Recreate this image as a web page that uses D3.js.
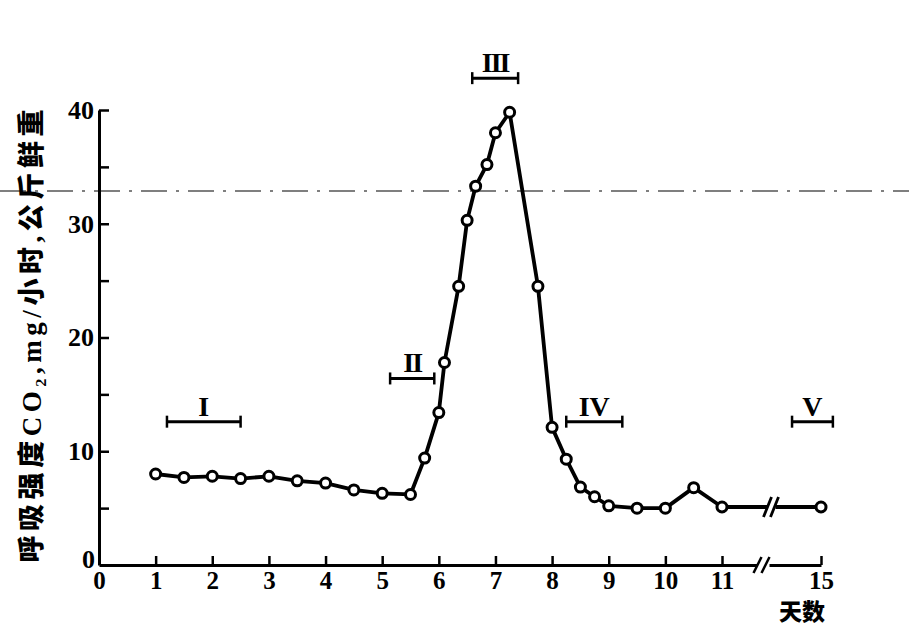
<!DOCTYPE html>
<html>
<head>
<meta charset="utf-8">
<script src="https://cdn.jsdelivr.net/npm/d3@7"></script>
<style>
  html, body { margin: 0; padding: 0; background: #fff; }
  svg { display: block; }
</style>
</head>
<body>
<svg id="chart" width="909" height="628"></svg>
<script>
// ---- data ----
const days  = [1, 1.5, 2, 2.5, 3, 3.5, 4, 4.5, 5, 5.5, 5.75, 6, 6.1, 6.35, 6.5, 6.65, 6.85, 7, 7.25, 7.75, 8, 8.25, 8.5, 8.75, 9, 9.5, 10, 10.5, 11, 15];
const rates = [8.0, 7.7, 7.8, 7.6, 7.8, 7.4, 7.2, 6.6, 6.3, 6.2, 9.4, 13.4, 17.8, 24.5, 30.3, 33.3, 35.2, 38.0, 39.8, 24.5, 12.1, 9.3, 6.85, 6.0, 5.2, 5.0, 5.0, 6.8, 5.1, 5.1];
const xTicks = [0, 1, 2, 3, 4, 5, 6, 7, 8, 9, 10, 11, 15];
const yTicks = [0, 10, 20, 30, 40];
const yMinorTicks = [5, 15, 25, 35];
const phaseLabels = ["I", "II", "III", "IV", "V"];
const phaseStart  = [1.2, 5.14, 6.59, 8.25, 13.83];
const phaseEnd    = [2.5, 5.92, 7.4, 9.24, 15.48];
const phaseLevel  = [12.6, 16.4, 42.8, 12.6, 12.6];
const yTitle = "呼吸强度CO₂,mg/小时,公斤鲜重";
const xTitle = "天数";
const breakBetween = [11, 15];

// ---- layout ----
const svg = d3.select("#chart");
const x = d3.scaleLinear().domain([0, 11, 15]).range([99, 722, 821]);
const y = d3.scaleLinear().domain([0, 40]).range([565, 110]);
const numFont = "'Liberation Serif', 'DejaVu Serif', serif";
const cjkFont = "'Liberation Serif', 'Noto Sans CJK SC', sans-serif";

// scan artifact line
svg.append("line")
  .attr("x1", 0).attr("x2", 909).attr("y1", 191).attr("y2", 191)
  .attr("stroke", "#000").attr("stroke-width", 1.2)
  .attr("stroke-dasharray", "26,9,3,9");

// x axis
const xAxis = d3.axisBottom(x).tickValues(xTicks).tickSizeInner(-9).tickSizeOuter(0).tickPadding(6)
  .tickFormat(d3.format("d"));
const gx = svg.append("g").attr("transform", `translate(0,${y(0)})`).call(xAxis);
gx.select(".domain").attr("stroke-width", 3);
gx.selectAll(".tick line").attr("stroke-width", 2.5);
gx.selectAll(".tick text").attr("font-family", numFont).attr("font-weight", "bold")
  .attr("font-size", 25).attr("fill", "#000");
gx.selectAll(".tick").filter(d => d === 0).select("line").remove();

// y axis
const yAxis = d3.axisLeft(y).tickValues(yTicks).tickSizeInner(-10).tickSizeOuter(0).tickPadding(5)
  .tickFormat(d3.format("d"));
const gy = svg.append("g").attr("transform", `translate(${x(0)},0)`).call(yAxis);
gy.select(".domain").attr("stroke-width", 3);
gy.selectAll(".tick line").attr("stroke-width", 2.5);
gy.selectAll(".tick text").attr("font-family", numFont).attr("font-weight", "bold")
  .attr("font-size", 26).attr("fill", "#000");
gy.selectAll(".tick").filter(d => d === 0).select("text").attr("dy", "0.1em").attr("x", -4);
gy.selectAll(".tick").filter(d => d === 0).select("line").remove();

const gyMinor = svg.append("g").attr("transform", `translate(${x(0)},0)`)
  .call(d3.axisLeft(y).tickValues(yMinorTicks).tickSizeInner(-10).tickSizeOuter(0).tickFormat(""));
gyMinor.select(".domain").remove();
gyMinor.selectAll(".tick line").attr("stroke-width", 2.5);

// axis break on x axis
const bx = (x(breakBetween[0]) + x(breakBetween[1])) / 2 - 10;
const axisBreak = svg.append("g").attr("transform", `translate(${bx},${y(0)})`);
axisBreak.append("rect").attr("x", -4).attr("y", -3).attr("width", 12).attr("height", 6).attr("fill", "#fff");
[-4, 4].forEach(o => axisBreak.append("line")
  .attr("x1", o - 4).attr("y1", 8).attr("x2", o + 4).attr("y2", -8)
  .attr("stroke", "#000").attr("stroke-width", 2.5));

// data line
const pts = days.map((d, i) => [d, rates[i]]);
svg.append("path")
  .datum(pts)
  .attr("fill", "none").attr("stroke", "#000").attr("stroke-width", 3.8)
  .attr("stroke-linejoin", "round")
  .attr("d", d3.line().x(d => x(d[0])).y(d => y(d[1])));

// data line break
const lb = (x(breakBetween[0]) + x(breakBetween[1])) / 2 - 1;
const ly = y(rates[rates.length - 1]);
const lineBreak = svg.append("g").attr("transform", `translate(${lb},${ly})`);
lineBreak.append("rect").attr("x", -3).attr("y", -3).attr("width", 8).attr("height", 6).attr("fill", "#fff");
[-3, 4].forEach(o => lineBreak.append("line")
  .attr("x1", o - 4).attr("y1", 10).attr("x2", o + 4).attr("y2", -10)
  .attr("stroke", "#000").attr("stroke-width", 2.8));

// markers
svg.append("g").selectAll("circle").data(pts).join("circle")
  .attr("cx", d => x(d[0])).attr("cy", d => y(d[1])).attr("r", 5)
  .attr("fill", "#fff").attr("stroke", "#000").attr("stroke-width", 3);

// phase brackets
const gp = svg.append("g");
phaseLabels.forEach((lab, i) => {
  const x1 = x(phaseStart[i]), x2 = x(phaseEnd[i]), yy = y(phaseLevel[i]);
  gp.append("line").attr("x1", x1).attr("x2", x2).attr("y1", yy).attr("y2", yy)
    .attr("stroke", "#000").attr("stroke-width", 3);
  [x1, x2].forEach(xx => gp.append("line").attr("x1", xx).attr("x2", xx)
    .attr("y1", yy - 6).attr("y2", yy + 6).attr("stroke", "#000").attr("stroke-width", 2.5));
  gp.append("text").attr("x", (x1 + x2) / 2).attr("y", yy - 6)
    .attr("text-anchor", "middle").attr("font-family", numFont).attr("font-weight", "bold")
    .attr("font-size", 28).attr("letter-spacing", lab === "II" || lab === "III" ? -2 : 0)
    .text(lab);
});

// titles
svg.append("text")
  .attr("transform", "translate(41,336) rotate(-90)")
  .attr("text-anchor", "middle")
  .attr("font-family", cjkFont).attr("font-weight", 900).attr("font-size", 27)
  .attr("textLength", 453).attr("lengthAdjust", "spacing")
  .text(yTitle);

svg.append("text")
  .attr("x", 802).attr("y", 620).attr("text-anchor", "middle")
  .attr("font-family", "'Noto Sans CJK SC', sans-serif").attr("font-weight", 900).attr("font-size", 23)
  .text(xTitle);
</script>
</body>
</html>
